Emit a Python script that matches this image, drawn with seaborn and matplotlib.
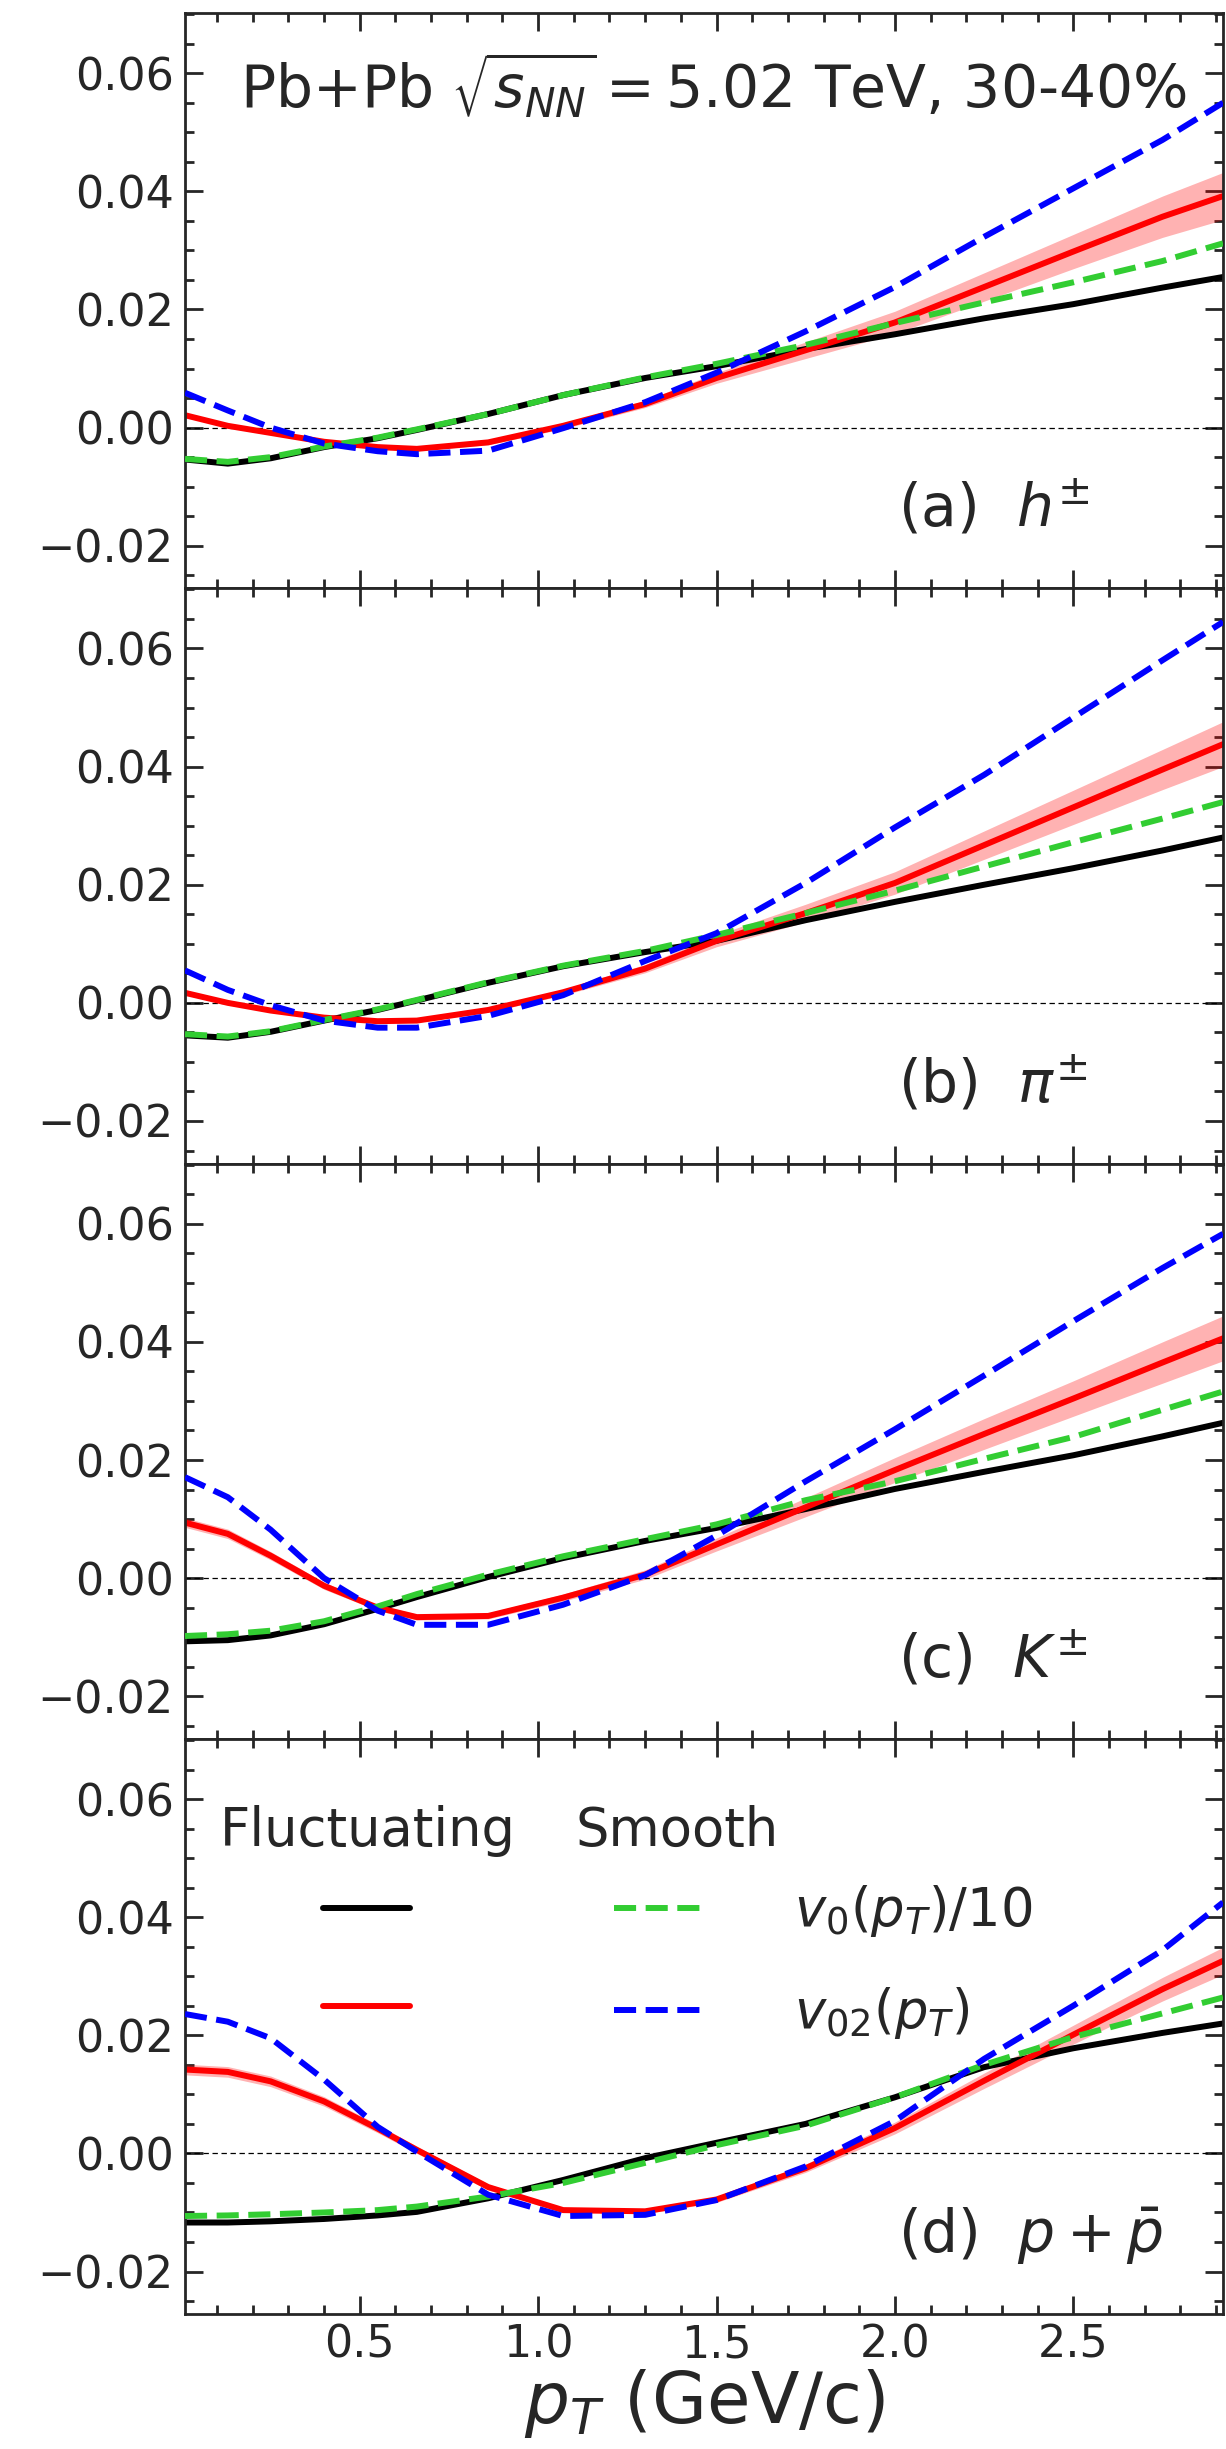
import numpy as np
import pandas as pd
import matplotlib
matplotlib.use("Agg")
import matplotlib.pyplot as plt
from matplotlib.ticker import MultipleLocator, FixedLocator, FixedFormatter
import seaborn as sns

# ---------------- data ----------------
pT = [0.01, 0.13, 0.25, 0.4, 0.55, 0.66, 0.86, 1.07, 1.3, 1.5, 1.75, 2.0, 2.25, 2.5, 2.75, 2.92]

panels = ["a", "b", "c", "d"]
panel_labels = [r"(a)  $h^{\pm}$", r"(b)  $\pi^{\pm}$", r"(c)  $K^{\pm}$", r"(d)  $p+\bar{p}$"]

# Fluctuating v0(pT)/10 (black solid)
fluct_v0_a = [-0.0054, -0.0061, -0.0052, -0.0033, -0.0018, -0.0004, 0.0023, 0.0055, 0.0084, 0.0104, 0.0133, 0.0158, 0.0185, 0.0209, 0.0237, 0.0255]
fluct_v0_b = [-0.0055, -0.0059, -0.0049, -0.0030, -0.0012, 0.0004, 0.0034, 0.0062, 0.0086, 0.0105, 0.0140, 0.0171, 0.0200, 0.0228, 0.0258, 0.0280]
fluct_v0_c = [-0.0107, -0.0105, -0.0097, -0.0078, -0.0052, -0.0032, 0.0002, 0.0034, 0.0063, 0.0085, 0.0117, 0.0151, 0.0180, 0.0208, 0.0240, 0.0263]
fluct_v0_d = [-0.0117, -0.0117, -0.0115, -0.0111, -0.0105, -0.0099, -0.0076, -0.0045, -0.0008, 0.0018, 0.0050, 0.0095, 0.0146, 0.0178, 0.0204, 0.0220]

# Smooth v0(pT)/10 (green dashed)
smooth_v0_a = [-0.0053, -0.0058, -0.0050, -0.0032, -0.0017, -0.0003, 0.0023, 0.0055, 0.0085, 0.0108, 0.0140, 0.0177, 0.0212, 0.0246, 0.0282, 0.0312]
smooth_v0_b = [-0.0053, -0.0057, -0.0048, -0.0029, -0.0011, 0.0005, 0.0035, 0.0063, 0.0088, 0.0115, 0.0152, 0.0190, 0.0231, 0.0272, 0.0312, 0.0340]
smooth_v0_c = [-0.0098, -0.0095, -0.0089, -0.0073, -0.0048, -0.0027, 0.0006, 0.0037, 0.0066, 0.0091, 0.0132, 0.0164, 0.0202, 0.0239, 0.0285, 0.0316]
smooth_v0_d = [-0.0106, -0.0105, -0.0103, -0.0100, -0.0096, -0.0090, -0.0073, -0.0050, -0.0016, 0.0014, 0.0047, 0.0095, 0.0150, 0.0197, 0.0237, 0.0264]

# Fluctuating v02(pT) (red solid) and its uncertainty
fluct_v02_a = [0.0021, 0.0003, -0.0009, -0.0024, -0.0033, -0.0036, -0.0025, 0.0003, 0.0040, 0.0084, 0.0131, 0.0178, 0.0238, 0.0298, 0.0357, 0.0392]
fluct_v02_b = [0.0017, 0.0000, -0.0013, -0.0025, -0.0031, -0.0030, -0.0012, 0.0018, 0.0058, 0.0105, 0.0152, 0.0203, 0.0267, 0.0331, 0.0395, 0.0438]
fluct_v02_c = [0.0094, 0.0075, 0.0038, -0.0013, -0.0050, -0.0066, -0.0064, -0.0033, 0.0006, 0.0057, 0.0120, 0.0183, 0.0244, 0.0304, 0.0365, 0.0406]
fluct_v02_d = [0.0142, 0.0138, 0.0122, 0.0088, 0.0042, 0.0006, -0.0057, -0.0096, -0.0098, -0.0078, -0.0025, 0.0043, 0.0123, 0.0201, 0.0278, 0.0326]

fluct_err_a = [0.0003, 0.0003, 0.0003, 0.0003, 0.0003, 0.0003, 0.0004, 0.0005, 0.0006, 0.0009, 0.0014, 0.0019, 0.0024, 0.0029, 0.0035, 0.0040]
fluct_err_b = [0.0003, 0.0003, 0.0003, 0.0003, 0.0003, 0.0003, 0.0004, 0.0005, 0.0007, 0.0010, 0.0015, 0.0019, 0.0024, 0.0029, 0.0034, 0.0038]
fluct_err_c = [0.0008, 0.0008, 0.0007, 0.0006, 0.0005, 0.0005, 0.0005, 0.0006, 0.0008, 0.0011, 0.0016, 0.0021, 0.0026, 0.0030, 0.0035, 0.0038]
fluct_err_d = [0.0009, 0.0009, 0.0009, 0.0008, 0.0007, 0.0006, 0.0005, 0.0004, 0.0004, 0.0005, 0.0007, 0.0010, 0.0013, 0.0016, 0.0020, 0.0023]

# Smooth v02(pT) (blue dashed)
smooth_v02_a = [0.0059, 0.0029, 0.0000, -0.0027, -0.0040, -0.0045, -0.0039, -0.0001, 0.0043, 0.0093, 0.0163, 0.0238, 0.0323, 0.0405, 0.0487, 0.0550]
smooth_v02_b = [0.0055, 0.0022, -0.0004, -0.0030, -0.0042, -0.0042, -0.0022, 0.0013, 0.0071, 0.0118, 0.0203, 0.0297, 0.0386, 0.0483, 0.0580, 0.0645]
smooth_v02_c = [0.0171, 0.0137, 0.0082, 0.0000, -0.0055, -0.0079, -0.0079, -0.0045, 0.0005, 0.0072, 0.0164, 0.0252, 0.0343, 0.0435, 0.0525, 0.0583]
smooth_v02_d = [0.0236, 0.0223, 0.0195, 0.0125, 0.0045, 0.0003, -0.0070, -0.0106, -0.0104, -0.0079, -0.0022, 0.0055, 0.0160, 0.0250, 0.0344, 0.0425]

y_tick_values = [-0.02, 0.00, 0.02, 0.04, 0.06]
y_tick_labels = ["\u22120.02", "0.00", "0.02", "0.04", "0.06"]
x_tick_values = [0.5, 1.0, 1.5, 2.0, 2.5]
x_tick_labels = ["0.5", "1.0", "1.5", "2.0", "2.5"]

fluct_v0 = [fluct_v0_a, fluct_v0_b, fluct_v0_c, fluct_v0_d]
smooth_v0 = [smooth_v0_a, smooth_v0_b, smooth_v0_c, smooth_v0_d]
fluct_v02 = [fluct_v02_a, fluct_v02_b, fluct_v02_c, fluct_v02_d]
fluct_err = [fluct_err_a, fluct_err_b, fluct_err_c, fluct_err_d]
smooth_v02 = [smooth_v02_a, smooth_v02_b, smooth_v02_c, smooth_v02_d]

# ---------------- style ----------------
sns.set_style("ticks")
plt.rcParams["font.family"] = ["DejaVu Sans"]
plt.rcParams["mathtext.fontset"] = "dejavusans"
plt.rcParams["axes.linewidth"] = 2.0

RED = "#ff0000"
BLUE = "#0000ff"
GREEN = "#32cd32"
LW = 4.3

fig = plt.figure(figsize=(12.26, 24.49), dpi=100)
axes = fig.subplots(4, 1, sharex=True, gridspec_kw=dict(hspace=0))
fig.subplots_adjust(left=0.1509, right=0.9976, top=0.9947, bottom=0.0551)

legend_lines = None
for i, ax in enumerate(axes):
    df = pd.DataFrame({
        "pT": pT,
        "fluct_v0": fluct_v0[i],
        "smooth_v0": smooth_v0[i],
        "fluct_v02": fluct_v02[i],
        "smooth_v02": smooth_v02[i],
    })
    lo = np.array(fluct_v02[i]) - np.array(fluct_err[i])
    hi = np.array(fluct_v02[i]) + np.array(fluct_err[i])
    ax.fill_between(pT, lo, hi, color=RED, alpha=0.3, lw=0, zorder=1)
    ax.axhline(0.0, color="black", lw=0.9, ls=(0, (4.3, 2.9)), zorder=1.5)
    sns.lineplot(data=df, x="pT", y="fluct_v0", ax=ax, color="black", linewidth=LW,
                 errorbar=None, zorder=2)
    sns.lineplot(data=df, x="pT", y="fluct_v02", ax=ax, color=RED, linewidth=LW,
                 errorbar=None, zorder=2)
    sns.lineplot(data=df, x="pT", y="smooth_v0", ax=ax, color=GREEN, linewidth=LW,
                 linestyle="--", errorbar=None, zorder=3)
    sns.lineplot(data=df, x="pT", y="smooth_v02", ax=ax, color=BLUE, linewidth=LW,
                 linestyle="--", errorbar=None, zorder=3)
    if i == 3:
        legend_lines = ax.get_lines()[-4:]

    ax.set_xlim(0.01, 2.92)
    ax.set_ylim(-0.0272, 0.0702)
    ax.set_xlabel("")
    ax.set_ylabel("")
    ax.yaxis.set_major_locator(FixedLocator(y_tick_values))
    ax.yaxis.set_major_formatter(FixedFormatter(y_tick_labels))
    ax.yaxis.set_minor_locator(MultipleLocator(0.005))
    ax.xaxis.set_major_locator(FixedLocator(x_tick_values))
    ax.xaxis.set_major_formatter(FixedFormatter(x_tick_labels))
    ax.xaxis.set_minor_locator(MultipleLocator(0.1))
    ax.tick_params(which="both", direction="in", top=True, right=True, width=2.0)
    ax.tick_params(which="major", length=13)
    ax.tick_params(which="minor", length=6.5)
    ax.tick_params(axis="y", labelsize=32, pad=8)
    ax.tick_params(axis="x", labelsize=32, pad=7)
    if i < 3:
        ax.tick_params(axis="x", labelbottom=False)
    ax.text(0.687, 0.107, panel_labels[i], transform=ax.transAxes, fontsize=42,
            ha="left", va="baseline")

axes[0].text(0.053, 0.836, r"Pb+Pb $\sqrt{s_{NN}}=5.02$ TeV, 30-40%",
             transform=axes[0].transAxes, fontsize=42, ha="left", va="baseline")

axd = axes[3]
black_l, red_l, green_l, blue_l = legend_lines
axd.legend(handles=[black_l, red_l, green_l, blue_l],
           labels=["", "", r"$v_0(p_T)/10$", r"$v_{02}(p_T)$"],
           ncol=2, loc="upper left", bbox_to_anchor=(0.133, 0.749),
           frameon=False, fontsize=38, handlelength=1.65, handletextpad=1.76,
           columnspacing=2.1, labelspacing=0.87, borderpad=0, borderaxespad=0)
axd.text(0.034, 0.813, "Fluctuating", transform=axd.transAxes, fontsize=38, ha="left", va="baseline")
axd.text(0.376, 0.813, "Smooth", transform=axd.transAxes, fontsize=38, ha="left", va="baseline")

axd.set_xlabel(r"$p_T$ (GeV/c)", fontsize=51, labelpad=0)

fig.savefig("out.png", dpi=100)
